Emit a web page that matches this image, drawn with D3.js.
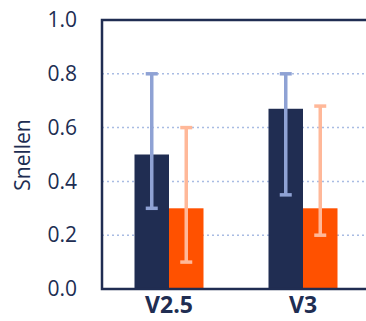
<html>
<script src="https://d3js.org/d3.v7.min.js"></script>
<style> body {margin:0; background:#fff;} </style>
<body>
<svg width="366" height="321"></svg>
<script>
const categories = ["V2.5", "V3"];
const series = ["navy", "orange"];
const means = [[0.5, 0.3], [0.67, 0.3]];
const errHigh = [[0.8, 0.6], [0.8, 0.68]];
const errLow = [[0.3, 0.1], [0.35, 0.2]];
const yTicks = [0.0, 0.2, 0.4, 0.6, 0.8, 1.0];

const barColors = {navy: "#202d52", orange: "#ff5100"};
const errColors = {navy: "#8fa2d4", orange: "#ffb899"};
const ink = "#202d52";
const font = "'Open Sans', sans-serif";

const svg = d3.select("svg");
const mLeft = 102, mTop = 20, mBottom = 289, mRight = 370;

const y = d3.scaleLinear().domain([0, 1]).range([mBottom, mTop]);
const x = d3.scaleBand().domain(categories).range([mLeft, mRight]);
const xs = d3.scaleBand().domain(series).range([0, 69]);

// gridlines
svg.append("g").selectAll("line").data(yTicks.filter(d => d > 0 && d < 1)).enter()
  .append("line")
  .attr("x1", mLeft).attr("x2", 366)
  .attr("y1", d => y(d)).attr("y2", d => y(d))
  .attr("stroke", "#a9bce3").attr("stroke-width", 1.5)
  .attr("stroke-dasharray", "2,3");

// bars
const groups = svg.append("g").selectAll("g").data(categories).enter()
  .append("g")
  .attr("transform", d => "translate(" + (x(d) + x.bandwidth() / 2 - 34.5) + ",0)");

groups.each(function(c, i) {
  const g = d3.select(this);
  series.forEach(function(s, j) {
    g.append("rect")
      .attr("x", xs(s)).attr("width", xs.bandwidth())
      .attr("y", y(means[i][j])).attr("height", y(0) - y(means[i][j]))
      .attr("fill", barColors[s]);
  });
  series.forEach(function(s, j) {
    const cx = xs(s) + xs.bandwidth() / 2;
    g.append("line")
      .attr("x1", cx).attr("x2", cx)
      .attr("y1", y(errHigh[i][j])).attr("y2", y(errLow[i][j]))
      .attr("stroke", errColors[s]).attr("stroke-width", 3.5);
    [errHigh[i][j], errLow[i][j]].forEach(function(v) {
      g.append("line")
        .attr("x1", cx - 6).attr("x2", cx + 6)
        .attr("y1", y(v)).attr("y2", y(v))
        .attr("stroke", errColors[s]).attr("stroke-width", 3.5);
    });
  });
});

// frame: left, top, bottom
svg.append("path")
  .attr("d", "M366," + mTop + "H" + mLeft + "V" + mBottom + "H366")
  .attr("fill", "none").attr("stroke", ink).attr("stroke-width", 2.5);

// y tick labels
const yAxis = svg.append("g").attr("transform", "translate(" + mLeft + ",0)")
  .call(d3.axisLeft(y).tickValues(yTicks).tickFormat(d3.format(".1f")).tickSize(0).tickPadding(25));
yAxis.select(".domain").remove();
yAxis.selectAll("text").attr("font-family", font).attr("font-size", 21).attr("fill", ink);

svg.append("text")
  .attr("transform", "translate(30,155) rotate(-90)")
  .attr("text-anchor", "middle")
  .attr("font-family", font).attr("font-size", 21).attr("fill", ink)
  .text("Snellen");

// x labels
const xAxis = svg.append("g").attr("transform", "translate(0," + mBottom + ")")
  .call(d3.axisBottom(x).tickSize(0).tickPadding(8));
xAxis.select(".domain").remove();
xAxis.selectAll("text").attr("font-family", font).attr("font-size", 23)
  .attr("font-weight", "bold").attr("fill", ink);
</script>
</body>
</html>
